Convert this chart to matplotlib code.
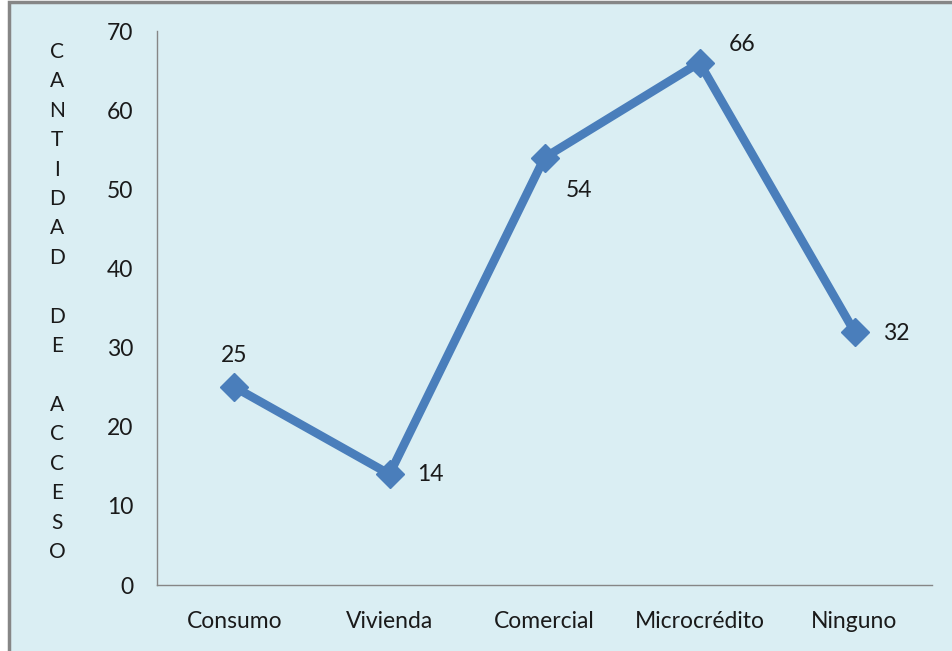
import matplotlib
matplotlib.use("Agg")
import matplotlib.pyplot as plt
from matplotlib.patches import Rectangle

categories = ["Consumo", "Vivienda", "Comercial", "Microcrédito", "Ninguno"]
values = [25, 14, 54, 66, 32]
yticks = [0, 10, 20, 30, 40, 50, 60, 70]
ylabel_lines = list("CANTIDAD") + [""] + list("DE") + [""] + list("ACCESO")

BG = "#DAEEF3"
LINE = "#4A7EBB"
GRAY = "#868686"
FONT = ["Lato", "DejaVu Sans"]
FS = 16.5

W, H = 953, 651
fig = plt.figure(figsize=(W / 100, H / 100), dpi=100)
fig.patch.set_facecolor("white")
fig.patches.append(Rectangle((9.5 / W, -0.05), 1.1, 1 - 2.5 / H + 0.05,
                             transform=fig.transFigure, facecolor=BG,
                             edgecolor=GRAY, linewidth=2.5, zorder=-10))

ax = fig.add_axes([157 / W, 1 - 585 / H, (932 - 157) / W, (585 - 31) / H])
ax.set_facecolor("none")
x = list(range(len(categories)))
ax.plot(x, values, color=LINE, linewidth=6.2, marker="D", markersize=14.5,
        markerfacecolor=LINE, markeredgecolor=LINE, solid_joinstyle="miter")

ax.set_xlim(-0.5, len(categories) - 0.5)
ax.set_ylim(0, 70)
ax.set_yticks(yticks)
ax.set_xticks(x)
ax.set_xticklabels(categories, fontsize=FS, family=FONT, color="#1a1a1a")
ax.set_yticklabels([str(v) for v in yticks], fontsize=FS, family=FONT, color="#1a1a1a")
ax.tick_params(axis="both", length=0)
ax.tick_params(axis="y", pad=17)
ax.tick_params(axis="x", pad=19)
for s in ["top", "right"]:
    ax.spines[s].set_visible(False)
for s in ["left", "bottom"]:
    ax.spines[s].set_color(GRAY)
    ax.spines[s].set_linewidth(1)

# label offsets in pixels (dx right, dy up)
offsets = [(0, 32), (41, 0), (35, -33), (43, 18), (42, -2)]
for xi, v, (dx, dy) in zip(x, values, offsets):
    ax.annotate(str(v), (xi, v), xytext=(dx * 0.72, dy * 0.72), textcoords="offset points",
                ha="center", va="center", fontsize=FS, family=FONT, color="#1a1a1a")

fig.text(57 / W, 1 - 302 / H, "\n".join(ylabel_lines), ha="center", va="center",
         fontsize=15, family=FONT, color="#1a1a1a", linespacing=1.59)

fig.savefig("out.png", dpi=100, facecolor=fig.get_facecolor())
